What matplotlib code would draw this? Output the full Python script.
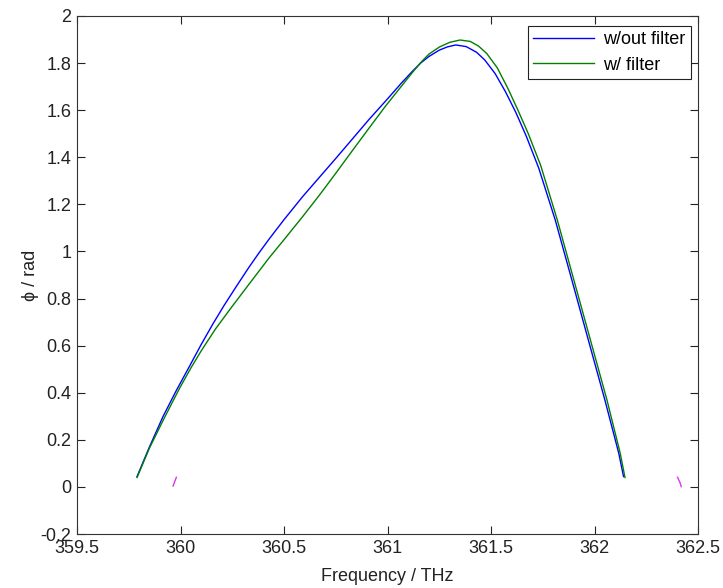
import numpy as np
import matplotlib
matplotlib.use("Agg")
import matplotlib.pyplot as plt

plt.rcParams['font.family'] = ['Liberation Sans', 'DejaVu Sans']

# phase without filter (blue)
freq_nofilt = [359.79, 359.85, 359.916, 359.98, 360.045, 360.10, 360.157, 360.21, 360.27,
               360.33, 360.38, 360.43, 360.50, 360.59, 360.75, 360.91, 361.00, 361.07,
               361.12, 361.16, 361.20, 361.25, 361.29, 361.33, 361.38, 361.43, 361.47,
               361.52, 361.57, 361.62, 361.67, 361.73, 361.81, 361.89, 361.97, 362.05,
               362.117, 362.14]
phase_nofilt = [0.044, 0.17, 0.30, 0.41, 0.515, 0.605, 0.693, 0.77, 0.852,
                0.932, 0.995, 1.055, 1.135, 1.233, 1.395, 1.56, 1.648, 1.718,
                1.765, 1.800, 1.828, 1.855, 1.869, 1.877, 1.870, 1.846, 1.813,
                1.755, 1.678, 1.590, 1.490, 1.355, 1.134, 0.880, 0.624, 0.369,
                0.143, 0.044]

# phase with filter (green)
freq_filt = [359.79, 359.85, 359.92, 359.996, 360.05, 360.10, 360.17, 360.237, 360.33,
             360.43, 360.50, 360.59, 360.67, 360.75, 360.83, 360.91, 360.99, 361.07,
             361.12, 361.16, 361.20, 361.25, 361.30, 361.35, 361.40, 361.44, 361.48,
             361.53, 361.58, 361.63, 361.68, 361.74, 361.82, 361.90, 361.98, 362.06,
             362.124, 362.147]
phase_filt = [0.040, 0.165, 0.29, 0.42, 0.505, 0.578, 0.672, 0.752, 0.86,
              0.975, 1.05, 1.148, 1.238, 1.332, 1.428, 1.523, 1.617, 1.705,
              1.760, 1.802, 1.838, 1.868, 1.888, 1.898, 1.892, 1.872, 1.840,
              1.780, 1.695, 1.600, 1.500, 1.365, 1.134, 0.879, 0.624, 0.369,
              0.143, 0.040]

# small magenta marks near the baseline
mark1_f = [359.964, 359.98]
mark1_p = [0.004, 0.041]
mark2_f = [362.401, 362.412, 362.419]
mark2_p = [0.041, 0.02, 0.001]

xticks = [359.5, 360, 360.5, 361, 361.5, 362, 362.5]
xticklabels = ['359.5', '360', '360.5', '361', '361.5', '362', '362.5']
yticks = [-0.2, 0, 0.2, 0.4, 0.6, 0.8, 1, 1.2, 1.4, 1.6, 1.8, 2]
yticklabels = ['-0.2', '0', '0.2', '0.4', '0.6', '0.8', '1', '1.2', '1.4', '1.6', '1.8', '2']

fig = plt.figure(figsize=(7.23, 5.88), dpi=100)
ax = fig.add_axes([0.1065, 0.0918, 0.859, 0.881])

ax.plot(freq_nofilt, phase_nofilt, color='#0000ff', lw=1.0, label='w/out filter')
ax.plot(freq_filt, phase_filt, color='#008000', lw=1.0, label='w/ filter')
ax.plot(mark1_f, mark1_p, color='#dd33ee', lw=1.0)
ax.plot(mark2_f, mark2_p, color='#dd33ee', lw=1.0)

ax.set_xlim(359.5, 362.5)
ax.set_ylim(-0.2, 2)
ax.set_xticks(xticks)
ax.set_xticklabels(xticklabels)
ax.set_yticks(yticks)
ax.set_yticklabels(yticklabels)
ax.tick_params(direction='in', top=True, right=True, length=6, width=0.8,
               labelsize=13, pad=4, colors='#222222')
for s in ax.spines.values():
    s.set_linewidth(0.8)
    s.set_color('#333333')

ax.set_xlabel('Frequency / THz', fontsize=13, labelpad=8, color='#222222')
ax.set_ylabel('\u03d5 / rad', fontsize=13, labelpad=1, color='#222222')

leg = ax.legend(loc='upper right', bbox_to_anchor=(0.9887, 0.9807), fontsize=13,
                fancybox=False, framealpha=1, edgecolor='#222222', borderaxespad=0,
                handlelength=3.4, handletextpad=0.5, borderpad=0.3, labelspacing=0.45)
leg.get_frame().set_linewidth(0.8)

fig.savefig('out.png', dpi=100)
